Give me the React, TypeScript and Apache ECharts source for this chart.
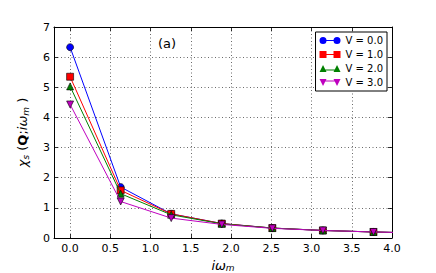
import React, { useEffect, useRef } from "react";
import * as echarts from "echarts";

const xValues = [0, 0.6283, 1.2566, 1.885, 2.5133, 3.1416, 3.7699, 4.3982];
const seriesNames = ["V = 0.0", "V = 1.0", "V = 2.0", "V = 3.0"];
const v0 = [6.33, 1.69, 0.8, 0.48, 0.33, 0.25, 0.2, 0.16];
const v1 = [5.35, 1.58, 0.8, 0.48, 0.33, 0.25, 0.2, 0.16];
const v2 = [5.03, 1.47, 0.77, 0.47, 0.33, 0.25, 0.2, 0.16];
const v3 = [4.43, 1.21, 0.66, 0.45, 0.32, 0.25, 0.2, 0.16];
const seriesValues = [v0, v1, v2, v3];
const xTicks = [0, 0.5, 1, 1.5, 2, 2.5, 3, 3.5, 4];
const yTicks = [0, 1, 2, 3, 4, 5, 6, 7];

const colors = ["#0000ff", "#ff0000", "#008000", "#bf00bf"];
const symbols = ["circle", "rect", "triangle", "triangle"];
const rotations = [0, 0, 0, 180];
const legendIcons = [
  "path://M0,3.5 A3.5,3.5 0 1,1 7,3.5 A3.5,3.5 0 1,1 0,3.5 Z M3.5,3 L17.5,3 L17.5,4 L3.5,4 Z M14,3.5 A3.5,3.5 0 1,1 21,3.5 A3.5,3.5 0 1,1 14,3.5 Z",
  "path://M0,0 L7,0 L7,7 L0,7 Z M3.5,3 L17.5,3 L17.5,4 L3.5,4 Z M14,0 L21,0 L21,7 L14,7 Z",
  "path://M0,7 L3.5,0 L7,7 Z M3.5,4.5 L17.5,4.5 L17.5,5.5 L3.5,5.5 Z M14,7 L17.5,0 L21,7 Z",
  "path://M0,0 L7,0 L3.5,7 Z M3.5,1.5 L17.5,1.5 L17.5,2.5 L3.5,2.5 Z M14,0 L21,0 L17.5,7 Z",
];

const FONT = "DejaVu Sans";

export default function App() {
  const ref = useRef<HTMLDivElement>(null);
  useEffect(() => {
    if (!ref.current) return;
    const chart = echarts.init(ref.current, undefined, { renderer: "svg" });
    const tickCommon = {
      inside: true,
      length: 4,
      lineStyle: { color: "#000", width: 0.8 },
    };
    const option: any = {
      animation: false,
      backgroundColor: "#fff",
      grid: {
        left: 54,
        right: 44,
        top: 27,
        bottom: 35,
        show: false,
        containLabel: false,
        outerBoundsMode: "none",
      },
      legend: {
        orient: "vertical",
        right: 49,
        top: 32,
        backgroundColor: "#fff",
        borderColor: "#000",
        borderWidth: 1,
        borderRadius: 0,
        padding: [2, 4, 2, 4],
        itemWidth: 21,
        itemHeight: 7,
        itemGap: 1,
        itemStyle: { borderWidth: 0 },
        textStyle: { fontFamily: FONT, fontSize: 10, color: "#000", lineHeight: 13 },
        data: seriesNames.map((n, i) => ({ name: n, icon: legendIcons[i] })),
      },
      graphic: [
        {
          type: "text",
          left: 158,
          top: 37,
          style: { text: "(a)", font: `13px '${FONT}'`, fill: "#000" },
        },
      ],
      xAxis: [
        {
          type: "value",
          min: -0.2,
          max: 4.0,
          name: "{it|iω}{sub|m}",
          nameLocation: "middle",
          nameGap: 19,
          nameTextStyle: {
            rich: {
              it: { fontFamily: FONT, fontStyle: "italic", fontSize: 13, color: "#000" },
              sub: { fontFamily: FONT, fontStyle: "italic", fontSize: 9, color: "#000", padding: [6, 0, 0, 0] },
            },
          },
          axisLine: { show: true, onZero: false, lineStyle: { color: "#000", width: 1 } },
          axisTick: { ...tickCommon, customValues: xTicks },
          axisLabel: {
            customValues: xTicks,
            formatter: (v: number) => v.toFixed(1),
            fontFamily: FONT,
            fontSize: 11,
            color: "#000",
            margin: 5,
          },
          splitLine: {
            show: true,
            lineStyle: { color: "#444", width: 0.8, type: [1, 2.5] },
          },
        },
        {
          type: "value",
          position: "top",
          min: -0.2,
          max: 4.0,
          axisLine: { show: true, onZero: false, lineStyle: { color: "#000", width: 1 } },
          axisTick: { ...tickCommon, customValues: xTicks },
          axisLabel: { show: false, customValues: xTicks },
          splitLine: { show: false },
        },
      ],
      yAxis: [
        {
          type: "value",
          min: 0,
          max: 7,
          interval: 1,
          name: "{it|χ}{sub|s}{n| (}{b|Q}{n|;}{it|iω}{sub|m}{n| )}",
          nameLocation: "middle",
          nameRotate: 90,
          nameGap: 24,
          nameTextStyle: {
            rich: {
              it: { fontFamily: FONT, fontStyle: "italic", fontSize: 13, color: "#000" },
              n: { fontFamily: FONT, fontSize: 13, color: "#000" },
              b: { fontFamily: FONT, fontWeight: "bold", fontSize: 13, color: "#000" },
              sub: { fontFamily: FONT, fontStyle: "italic", fontSize: 9, color: "#000", padding: [6, 0, 0, 0] },
            },
          },
          axisLine: { show: true, onZero: false, lineStyle: { color: "#000", width: 1 } },
          axisTick: tickCommon,
          axisLabel: {
            customValues: yTicks,
            fontFamily: FONT,
            fontSize: 11,
            color: "#000",
            margin: 4,
          },
          splitLine: {
            show: true,
            lineStyle: { color: "#444", width: 0.8, type: [1, 2.5] },
          },
        },
        {
          type: "value",
          position: "right",
          min: 0,
          max: 7,
          interval: 1,
          axisLine: { show: true, onZero: false, lineStyle: { color: "#000", width: 1 } },
          axisTick: tickCommon,
          axisLabel: { show: false },
          splitLine: { show: false },
        },
      ],
      series: seriesNames.map((name, i) => ({
        name,
        type: "line",
        xAxisIndex: 0,
        yAxisIndex: 0,
        data: xValues.map((x, j) => [x, seriesValues[i][j]]),
        symbol: symbols[i],
        symbolRotate: rotations[i],
        symbolSize: 7,
        showAllSymbol: true,
        clip: true,
        color: colors[i],
        lineStyle: { color: colors[i], width: 1 },
        itemStyle: { color: colors[i], borderColor: "#000", borderWidth: 0.6 },
        z: 2 + i,
      })),
    };
    chart.setOption(option);
    return () => chart.dispose();
  }, []);
  return (
    <div
      ref={ref}
      style={{ position: "fixed", left: 0, top: 0, width: 436, height: 273 }}
    />
  );
}
